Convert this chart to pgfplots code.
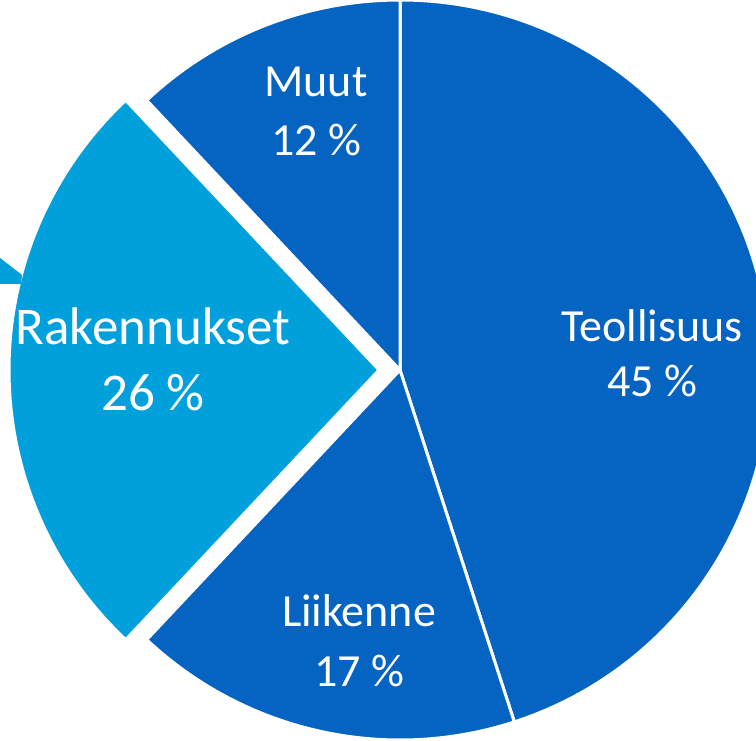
\documentclass[border=0pt]{standalone}
\usepackage{fontspec}
\setmainfont{Carlito}
\usepackage{pgfplots}
\pgfplotsset{compat=1.18}
\definecolor{darkblue}{RGB}{5,99,193}
\definecolor{lightblue}{RGB}{0,160,220}
\begin{document}
\begin{tikzpicture}
\begin{axis}[
  x=1pt, y=1pt,
  xmin=0, xmax=756, ymin=0, ymax=740,
  axis line style={draw=none},
  xtick=\empty, ytick=\empty,
  clip=true,
]
% shares (%): Teollisuus 45, Liikenne 17, Rakennukset 26, Muut 12 ; 1 % = 3.6 deg, clockwise from 90 deg
\fill[darkblue, draw=white, line width=3pt] (axis cs:400,370) -- ++(90:370pt)
  arc[start angle=90, end angle={90-45*3.6}, radius=370pt] -- cycle;
\fill[darkblue, draw=white, line width=3pt] (axis cs:400,370) -- ++({90-45*3.6}:370pt)
  arc[start angle={90-45*3.6}, end angle={90-62*3.6}, radius=370pt] -- cycle;
\fill[lightblue, draw=white, line width=3pt] (axis cs:379,370) -- ++({90-62*3.6}:370pt)
  arc[start angle={90-62*3.6}, end angle={90-88*3.6}, radius=370pt] -- cycle;
\fill[darkblue, draw=white, line width=3pt] (axis cs:400,370) -- ++({90-88*3.6}:370pt)
  arc[start angle={90-88*3.6}, end angle={90-100*3.6}, radius=370pt] -- cycle;
\addplot[fill=lightblue, draw=none] coordinates {(-5,486) (22,465) (21,456) (-5,456)} -- cycle;
% labels
\node[white, anchor=base, font=\fontsize{46}{55}\selectfont] at (axis cs:652,398) {Teollisuus};
\node[white, anchor=base, font=\fontsize{46}{55}\selectfont] at (axis cs:652,343) {45 \%};
\node[white, anchor=base, font=\fontsize{46}{55}\selectfont] at (axis cs:359,113) {Liikenne};
\node[white, anchor=base, font=\fontsize{46}{55}\selectfont] at (axis cs:359,53) {17 \%};
\node[white, anchor=base, font=\fontsize{53}{63}\selectfont] at (axis cs:153,395) {Rakennukset};
\node[white, anchor=base, font=\fontsize{53}{63}\selectfont] at (axis cs:153,329) {26 \%};
\node[white, anchor=base, font=\fontsize{46}{55}\selectfont] at (axis cs:316,643) {Muut};
\node[white, anchor=base, font=\fontsize{46}{55}\selectfont] at (axis cs:316,584) {12 \%};
\end{axis}
\end{tikzpicture}
\end{document}
